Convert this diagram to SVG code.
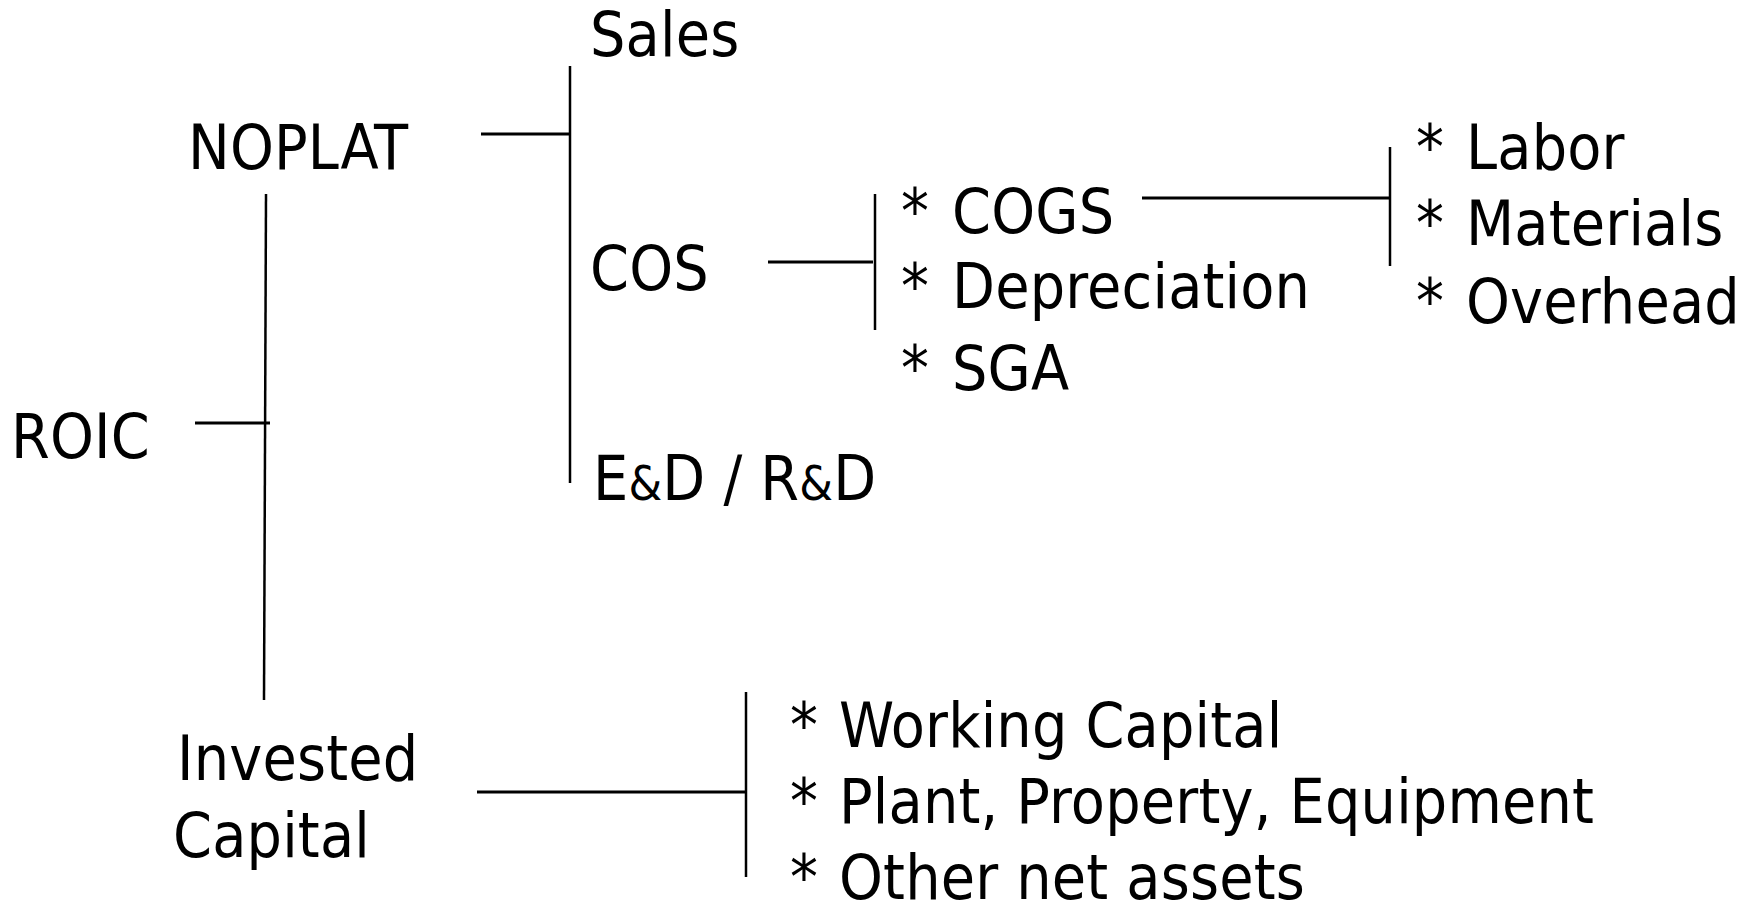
<svg xmlns="http://www.w3.org/2000/svg" width="1756" height="907" viewBox="0 0 1756 907">
<style>
text{font-family:"DejaVu Sans Condensed","DejaVu Sans",sans-serif;font-stretch:condensed;font-size:62px;letter-spacing:0.2px;fill:#000}
.amp{font-size:48px}
line{stroke:#000;stroke-width:3}
.v{stroke-width:2.5}
</style>
<rect width="1756" height="907" fill="#fff"/>
<g id="connectors">
<line class="v" x1="266" y1="194" x2="264" y2="700"/>
<line x1="195" y1="423" x2="270" y2="423"/>
<line x1="481" y1="134" x2="571" y2="134"/>
<line class="v" x1="570" y1="66" x2="570" y2="483"/>
<line x1="768" y1="262" x2="873" y2="262"/>
<line class="v" x1="875" y1="194" x2="875" y2="330"/>
<line x1="1142" y1="198" x2="1389" y2="198"/>
<line class="v" x1="1390" y1="147" x2="1390" y2="266"/>
<line x1="477" y1="792" x2="745" y2="792"/>
<line class="v" x1="746" y1="692" x2="746" y2="877"/>
</g>
<g id="roic"><text x="11" y="458">ROIC</text></g>
<g id="noplat"><text x="188" y="169">NOPLAT</text></g>
<g id="invested"><text x="177" y="780">Invested</text><text x="173" y="857">Capital</text></g>
<g id="sales"><text x="590" y="56">Sales</text></g>
<g id="cos"><text x="590" y="290">COS</text></g>
<g id="ed"><text x="593" y="500">E<tspan class="amp">&amp;</tspan>D / R<tspan class="amp">&amp;</tspan>D</text></g>
<g id="cos-items">
<text x="901" y="233">*</text><text x="952" y="233">COGS</text>
<text x="901" y="308">*</text><text x="952" y="308">Depreciation</text>
<text x="901" y="390">*</text><text x="952" y="390">SGA</text>
</g>
<g id="cogs-items">
<text x="1416" y="169">*</text><text x="1466" y="169">Labor</text>
<text x="1416" y="245">*</text><text x="1466" y="245">Materials</text>
<text x="1416" y="323">*</text><text x="1466" y="323">Overhead</text>
</g>
<g id="capital-items">
<text x="790" y="747">*</text><text x="839" y="747">Working Capital</text>
<text x="790" y="823">*</text><text x="839" y="823">Plant, Property, Equipment</text>
<text x="790" y="899">*</text><text x="839" y="899">Other net assets</text>
</g>
</svg>
